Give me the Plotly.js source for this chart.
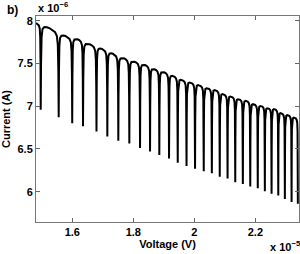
<!DOCTYPE html>
<html>
<head>
<meta charset="utf-8">
<script src="https://cdn.plot.ly/plotly-3.0.1.min.js"></script>
<style>html,body{margin:0;padding:0;background:#fff}#chart{width:300px;height:254px}</style>
</head>
<body>
<div id="chart"></div>
<script>
// Voltage in units of 1e-5 V, current in units of 1e-6 A
const startV = 1.481;
const startI = 7.973;
// voltage of each sharp dip
const dipV = [1.4964, 1.5554, 1.5997, 1.6351, 1.6793, 1.7148, 1.7508, 1.7869, 1.8220, 1.8548,
              1.8852, 1.9170, 1.9456, 1.9744, 2.0023, 2.0308, 2.0574, 2.0833, 2.1089, 2.1341,
              2.1590, 2.1833, 2.2079, 2.2311, 2.2531, 2.2751, 2.2967, 2.3187, 2.3393];
// current at the bottom of each dip
const dipI = [6.960, 6.870, 6.800, 6.765, 6.705, 6.645, 6.595, 6.565, 6.510, 6.470,
              6.430, 6.390, 6.340, 6.300, 6.270, 6.240, 6.215, 6.175, 6.155, 6.110,
              6.090, 6.060, 6.040, 6.005, 5.975, 5.955, 5.915, 5.880, 5.860];
// current at the top of each arch between consecutive dips
const peakI = [7.911, 7.821, 7.782, 7.724, 7.671, 7.614, 7.560, 7.520, 7.482, 7.432,
               7.396, 7.353, 7.306, 7.275, 7.244, 7.209, 7.186, 7.139, 7.111, 7.081,
               7.061, 7.022, 7.002, 6.975, 6.964, 6.917, 6.894, 6.865];
// normalised shape of one arch (fraction across arch, fraction of height)
const profT = [0, 0.02, 0.05, 0.1, 0.2, 0.35, 0.5, 0.65, 0.8, 0.9, 0.95, 0.98, 1];
const profF = [0, 0.55, 0.85, 0.95, 0.985, 0.997, 1, 0.997, 0.985, 0.95, 0.85, 0.55, 0];

const xs = [], ys = [];
// leading partial arch
{
  const x1 = dipV[0];
  const half = x1 - startV;
  const mid1 = (dipV[0] + dipV[1]) / 2;
  const s = (peakI[0] - startI) / (mid1 - startV);
  for (let j = 0; j < profT.length; j++) {
    if (profT[j] < 0.5) continue;
    const x = startV + (profT[j] - 0.5) * 2 * half;
    const env = startI + s * (x - startV);
    const base = dipI[0];
    xs.push(x); ys.push(base + (env - base) * profF[j]);
  }
}
const mids = peakI.map((_, k) => (dipV[k] + dipV[k + 1]) / 2);
for (let k = 0; k < peakI.length; k++) {
  const x0 = dipV[k], x1 = dipV[k + 1], w = x1 - x0;
  const a = Math.max(0, k - 1), b = Math.min(peakI.length - 1, k + 1);
  const s = (peakI[b] - peakI[a]) / (mids[b] - mids[a]);
  for (let j = 1; j < profT.length; j++) {
    const t = profT[j];
    const x = x0 + t * w;
    const base = dipI[k] + t * (dipI[k + 1] - dipI[k]);
    const env = peakI[k] + s * (x - mids[k]);
    xs.push(x); ys.push(base + (env - base) * profF[j]);
  }
}

const bold = {family: 'Liberation Sans, Arial, sans-serif', size: 11, color: '#000', weight: 'bold'};
const trace = {x: xs, y: ys, type: 'scatter', mode: 'lines',
  line: {color: '#000', width: 2}, hoverinfo: 'skip'};

const axisCommon = {
  ticks: 'inside', ticklen: 4, tickwidth: 1, tickcolor: '#666',
  showline: true, linecolor: '#777', linewidth: 1, mirror: 'allticks',
  showgrid: false, zeroline: false, tickfont: bold
};
const layout = {
  width: 300, height: 254,
  margin: {l: 36, r: 1, t: 16, b: 32},
  paper_bgcolor: '#fff', plot_bgcolor: '#fff',
  showlegend: false,
  xaxis: Object.assign({}, axisCommon, {
    range: [1.481, 2.343], tick0: 0, dtick: 0.2,
    title: {text: 'Voltage (V)', font: bold, standoff: 2}
  }),
  yaxis: Object.assign({}, axisCommon, {
    range: [5.646, 8.055], tick0: 0, dtick: 0.5,
    title: {text: 'Current (A)', font: bold, standoff: 6}
  }),
  annotations: [
    {text: 'b)', xref: 'paper', yref: 'paper', x: -0.118, y: 1.027,
     xanchor: 'left', yanchor: 'middle', showarrow: false,
     font: {family: 'Liberation Sans, Arial, sans-serif', size: 12, color: '#000', weight: 'bold'}},
    {text: 'x 10<sup>\u22126</sup>', xref: 'paper', yref: 'paper', x: 0, y: 1.0,
     xanchor: 'left', yanchor: 'bottom', showarrow: false, font: bold},
    {text: 'x 10<sup>\u22125</sup>', xref: 'paper', yref: 'paper', x: 0.883, y: -0.162,
     xanchor: 'left', yanchor: 'bottom', showarrow: false, font: bold}
  ]
};
Plotly.newPlot('chart', [trace], layout, {staticPlot: true, displayModeBar: false});
</script>
</body>
</html>
